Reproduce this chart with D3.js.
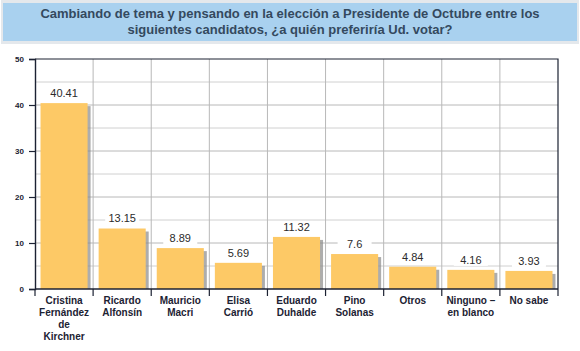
<!DOCTYPE html>
<html>
<head>
<meta charset="utf-8">
<script src="https://cdn.jsdelivr.net/npm/d3@7"></script>
<style>
  body { margin: 0; background: #fff; }
  svg { display: block; font-family: Arial, "Liberation Sans", sans-serif; }
</style>
</head>
<body>
<div id="chart"></div>
<script>
let titleLines = [
    "Cambiando de tema y pensando en la elección a Presidente de Octubre entre los",
    "siguientes candidatos, ¿a quién preferiría Ud. votar?"
]

let categories = [
    ["Cristina", "Fernández", "de", "Kirchner"],
    ["Ricardo", "Alfonsín"],
    ["Mauricio", "Macri"],
    ["Elisa", "Carrió"],
    ["Eduardo", "Duhalde"],
    ["Pino", "Solanas"],
    ["Otros"],
    ["Ninguno –", "en blanco"],
    ["No sabe"]
]

let values = [40.41, 13.15, 8.89, 5.69, 11.32, 7.6, 4.84, 4.16, 3.93]
let valueLabels = ["40.41", "13.15", "8.89", "5.69", "11.32", "7.6", "4.84", "4.16", "3.93"]
let yTicks = [0, 10, 20, 30, 40, 50]
let yGrid = [5, 10, 15, 20, 25, 30, 35, 40, 45]

const width = 580, height = 351
const margin = { left: 35, right: 22, top: 59, bottom: 62 }

const svg = d3.select('#chart')
    .append('svg')
    .attr('width', width)
    .attr('height', height)

// title box
svg.append('rect')
    .attr('x', 1).attr('y', 0)
    .attr('width', 578).attr('height', 44)
    .attr('fill', '#e4e8ec')
svg.append('rect')
    .attr('x', 3).attr('y', 3)
    .attr('width', 574).attr('height', 38)
    .attr('fill', '#a9d1ef')

svg.append('g')
    .selectAll('text')
    .data(titleLines)
    .join('text')
    .attr('x', 290)
    .attr('y', (d, i) => 18 + i * 16)
    .attr('text-anchor', 'middle')
    .attr('font-size', '13px')
    .attr('font-weight', 'bold')
    .attr('fill', '#34495e')
    .text(d => d)

const xScale = d3.scaleBand()
    .domain(d3.range(categories.length))
    .range([margin.left, width - margin.right])
    .paddingInner(0.19)
    .paddingOuter(0.095)

const step = xScale.step()
const x0 = margin.left

const yScale = d3.scaleLinear()
    .domain([0, 50])
    .range([height - margin.bottom, margin.top])

// grid
svg.append('g')
    .selectAll('line')
    .data(yGrid)
    .join('line')
    .attr('x1', x0).attr('x2', width - margin.right)
    .attr('y1', d => yScale(d)).attr('y2', d => yScale(d))
    .attr('stroke', d => d % 10 == 0 ? '#b8b8b8' : '#d0d0d0')
    .attr('stroke-width', 1)

svg.append('g')
    .selectAll('line')
    .data(d3.range(1, categories.length))
    .join('line')
    .attr('x1', d => x0 + d * step).attr('x2', d => x0 + d * step)
    .attr('y1', yScale(50)).attr('y2', yScale(0))
    .attr('stroke', '#b8b8b8')

// frame top and right
svg.append('path')
    .attr('d', `M${x0},${yScale(50)}H${width - margin.right}V${yScale(0)}`)
    .attr('fill', 'none')
    .attr('stroke', '#1c2233')
    .attr('stroke-width', 1.2)

// shadows
svg.append('g')
    .selectAll('rect')
    .data(values)
    .join('rect')
    .attr('x', (d, i) => xScale(i) + 3)
    .attr('y', d => yScale(d) + 3)
    .attr('width', xScale.bandwidth())
    .attr('height', d => yScale(0) - yScale(d) - 3)
    .attr('fill', '#8a8a8a')
    .attr('opacity', 0.7)

// bars
svg.append('g')
    .selectAll('rect')
    .data(values)
    .join('rect')
    .attr('x', (d, i) => xScale(i))
    .attr('y', d => yScale(d))
    .attr('width', xScale.bandwidth())
    .attr('height', d => yScale(0) - yScale(d))
    .attr('fill', '#fdc966')

// value labels with white backing
const lab = svg.append('g')
    .selectAll('g')
    .data(values)
    .join('g')
    .attr('transform', (d, i) => `translate(${xScale(i) + xScale.bandwidth() / 2},${yScale(d) - 10})`)

lab.append('rect')
    .attr('x', -17).attr('y', -6)
    .attr('width', 34).attr('height', 12)
    .attr('fill', '#fff')

lab.append('text')
    .attr('text-anchor', 'middle')
    .attr('dy', '0.36em')
    .attr('font-size', '11px')
    .attr('fill', '#2b2b2b')
    .text((d, i) => valueLabels[i])

// y axis
const yAxis = d3.axisLeft(yScale)
    .tickValues(yTicks)
    .tickSize(6)
    .tickPadding(5)

const yAxisDraw = svg.append('g')
    .attr('transform', `translate(${x0},0)`)
    .call(yAxis)
yAxisDraw.select('.domain').attr('stroke', '#1c2233').attr('stroke-width', 1.4)
yAxisDraw.selectAll('.tick line').attr('stroke', '#1c2233').attr('stroke-width', 1.2)
yAxisDraw.selectAll('.tick text')
    .attr('font-size', '8px')
    .attr('font-weight', 'bold')
    .attr('fill', '#1c2233')
    .attr('font-family', 'Arial, "Liberation Sans", sans-serif')

// x axis baseline and ticks at category boundaries
svg.append('line')
    .attr('x1', x0).attr('x2', width - margin.right)
    .attr('y1', yScale(0)).attr('y2', yScale(0))
    .attr('stroke', '#1c2233').attr('stroke-width', 1.4)

svg.append('g')
    .selectAll('line')
    .data(d3.range(0, categories.length + 1))
    .join('line')
    .attr('x1', d => x0 + d * step).attr('x2', d => x0 + d * step)
    .attr('y1', yScale(0)).attr('y2', yScale(0) + 7)
    .attr('stroke', '#1c2233').attr('stroke-width', 1.2)

// category labels
const cat = svg.append('g')
    .selectAll('text')
    .data(categories)
    .join('text')
    .attr('x', (d, i) => xScale(i) + xScale.bandwidth() / 2)
    .attr('y', yScale(0) + 15)
    .attr('text-anchor', 'middle')
    .attr('font-size', '10px')
    .attr('font-weight', 'bold')
    .attr('fill', '#1c2233')

cat.selectAll('tspan')
    .data(d => d)
    .join('tspan')
    .attr('x', function() { return this.parentNode.getAttribute('x') })
    .attr('dy', (d, i) => i == 0 ? 0 : 12)
    .text(d => d)
</script>
</body>
</html>
